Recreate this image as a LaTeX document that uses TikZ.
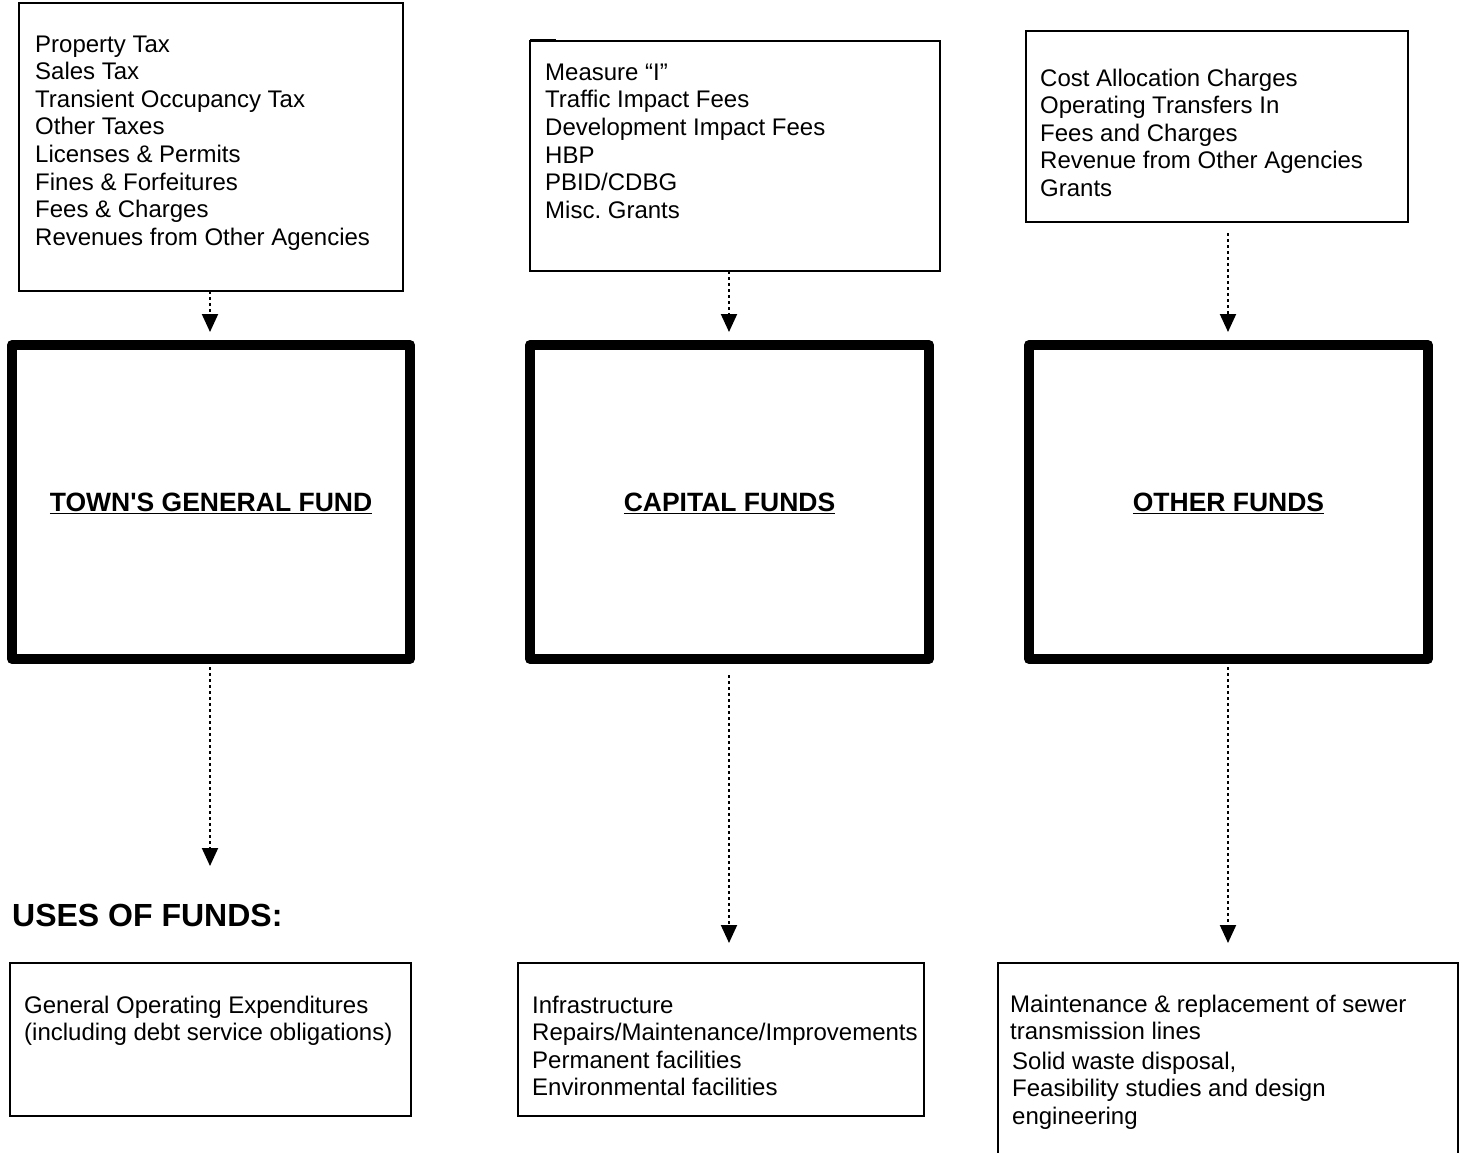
\documentclass[tikz,border=0pt]{standalone}
\usepackage{fontspec}
\setmainfont{Liberation Sans}
\usetikzlibrary{arrows.meta}
\frenchspacing
\newcommand{\straightquote}{\XeTeXglyph\XeTeXcharglyph"27\relax}
\tikzset{
  thinbox/.style={draw, line width=1.5pt, inner sep=0pt, outer sep=0pt},
  fundbox/.style={draw, line width=10pt, line join=round, inner sep=0pt,
    font=\fontsize{26.5}{30}\selectfont\bfseries, text depth=0pt},
  listtext/.style={anchor=north west, inner sep=0pt, align=left,
    font=\fontsize{24}{27.6}\selectfont\frenchspacing},
  flow/.style={line width=2pt, dash pattern=on 3pt off 3pt,
    -{Triangle[width=16pt,length=18pt]}}
}
\begin{document}
\begin{tikzpicture}[x=1pt,y=-1pt]
\useasboundingbox (0,0) rectangle (1465,1153);
\fill[white] (0,0) rectangle (1465,1153);

% top source boxes
\node[thinbox, minimum width=384pt, minimum height=288pt] (t1) at (211,147) {};
\node[thinbox, minimum width=410pt, minimum height=230pt] (t2) at (735,156) {};
\node[thinbox, minimum width=382pt, minimum height=191pt] (t3) at (1217,126.5) {};
\draw[line width=3pt] (t2.north west) -- ++(26,0);

\node[listtext] (t1txt) at (35,35.4) {Property Tax\\Sales Tax\\Transient Occupancy Tax\\Other Taxes\\Licenses \& Permits\\Fines \& Forfeitures\\Fees \& Charges\\Revenues from Other Agencies};
\node[listtext] (t2txt) at (545,63.5) {Measure “I”\\Traffic Impact Fees\\Development Impact Fees\\HBP\\PBID/CDBG\\Misc. Grants};
\node[listtext] (t3txt) at (1040,68.5) {Cost Allocation Charges\\Operating Transfers In\\Fees and Charges\\Revenue from Other Agencies\\Grants};

% fund boxes
\node[fundbox, minimum width=398pt, minimum height=314pt] (g1) at (211,502) {\underline{TOWN\straightquote S GENERAL FUND}};
\node[fundbox, minimum width=399pt, minimum height=314pt] (g2) at (729.5,502) {\underline{CAPITAL FUNDS}};
\node[fundbox, minimum width=399pt, minimum height=314pt] (g3) at (1228.5,502) {\underline{OTHER FUNDS}};

% uses
\node[anchor=west, inner sep=0pt, font=\fontsize{32}{36}\selectfont\bfseries] (uses) at (12,915) {USES OF FUNDS:};

\node[thinbox, minimum width=401pt, minimum height=153pt] (b1) at (210.5,1039.5) {};
\node[thinbox, minimum width=406pt, minimum height=153pt] (b2) at (721,1039.5) {};
\node[thinbox, minimum width=460pt, minimum height=202pt] (b3) at (1228,1064) {};

\node[listtext] (b1txt) at (24,995.5) {General Operating Expenditures\\(including debt service obligations)};
\node[listtext] (b2txt) at (532,995.5) {Infrastructure\\Repairs/Maintenance/Improvements\\Permanent facilities\\Environmental facilities};
\node[listtext] (b3txta) at (1010,994.5) {Maintenance \& replacement of sewer\\transmission lines};
\node[listtext] (b3txtb) at (1012,1051.5) {Solid waste disposal,\\Feasibility studies and design\\engineering};

% connectors
\coordinate (u1) at (210,866);
\coordinate (u2) at (729,943);
\coordinate (u3) at (1228,943);

\draw[flow, shorten >=8pt] (t1.south -| 210,0) -- (g1.north -| 210,0);
\draw[flow, shorten >=8pt] (t2.south -| 729,0) -- (g2.north -| 729,0);
\draw[flow, shorten <=11pt, shorten >=8pt] (t3.south -| 1228,0) -- (g3.north -| 1228,0);

\draw[flow, shorten <=3pt] (g1.south -| u1) -- (u1);
\draw[flow, shorten <=11pt] (g2.south -| u2) -- (u2);
\draw[flow, shorten <=3pt] (g3.south -| u3) -- (u3);
\end{tikzpicture}
\end{document}
